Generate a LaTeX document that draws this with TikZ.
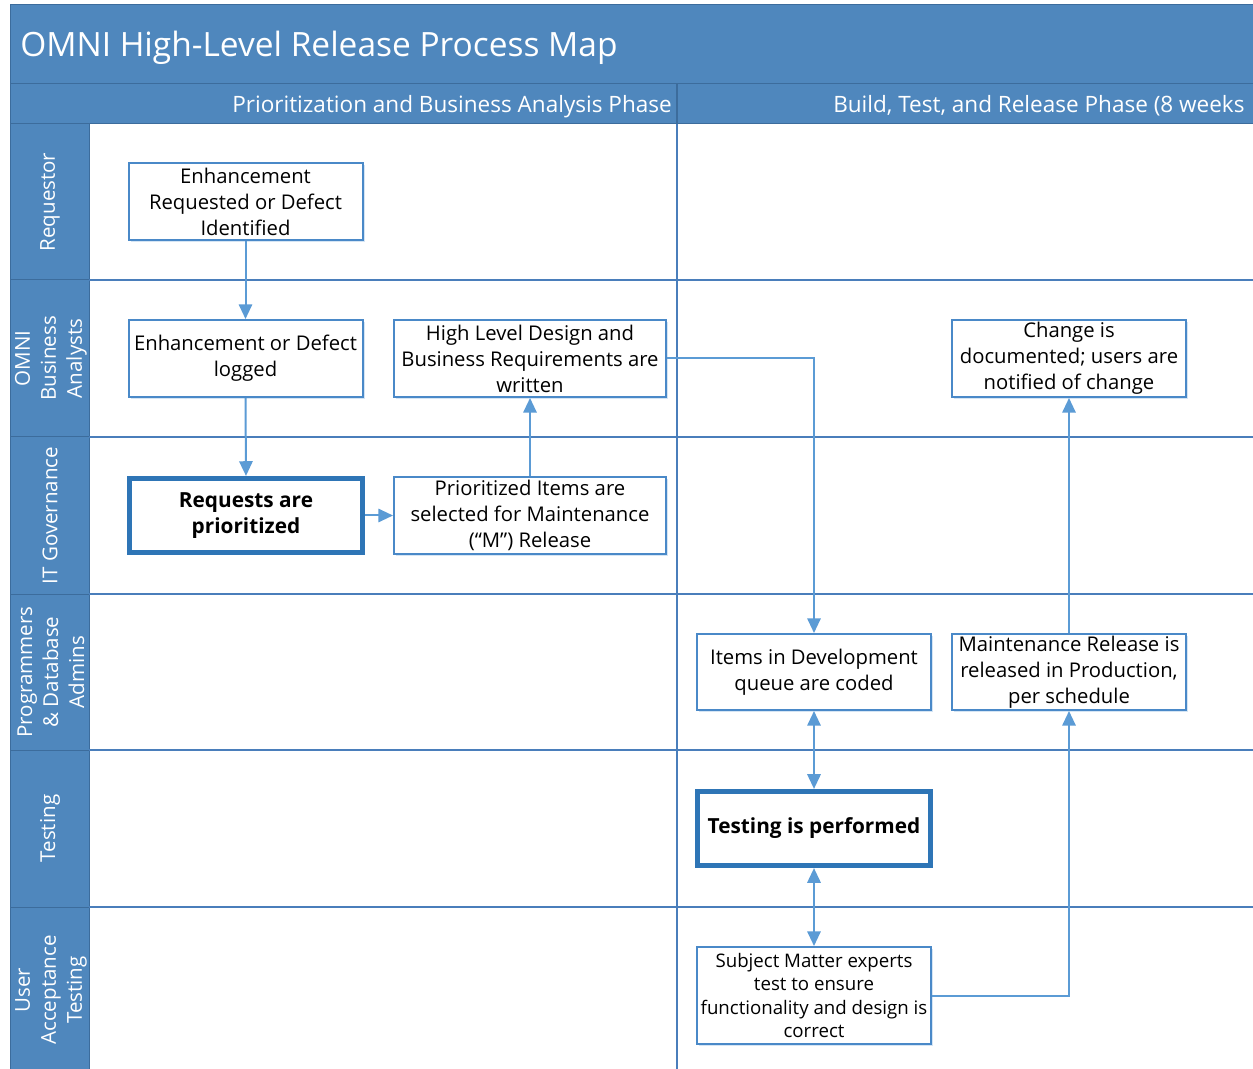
\documentclass[tikz,border=0pt]{standalone}
\usepackage{fontspec}
\setmainfont{Open Sans}
\usetikzlibrary{arrows.meta,shadows}
\definecolor{hdr}{HTML}{4F87BD}
\definecolor{hdrline}{HTML}{3C6C9C}
\definecolor{laneline}{HTML}{4A7EBB}
\definecolor{boxb}{HTML}{4A89C8}
\definecolor{thickb}{HTML}{2E75B6}
\definecolor{arr}{HTML}{5B9BD5}
\begin{document}
\begin{tikzpicture}[x=0.75pt,y=-0.75pt,
  box/.style={draw=boxb, line width=1.5pt, fill=white, align=center, inner sep=0pt,
    font=\fontsize{15.2}{19.5}\selectfont,
    drop shadow={shadow xshift=1.5pt,shadow yshift=-1.5pt,fill=arr,opacity=0.25}},
  thickbox/.style={box, draw=thickb, line width=3.9pt, font=\fontsize{15.6}{20}\selectfont\bfseries},
  link/.style={draw=arr, line width=1.5pt, -{Triangle[length=11pt,width=10pt]}},
  dlink/.style={draw=arr, line width=1.5pt, {Triangle[length=11pt,width=10pt]}-{Triangle[length=11pt,width=10pt]}},
  lanelbl/.style={text=white, rotate=90, align=center, inner sep=0pt, font=\fontsize{15.4}{19.5}\selectfont},
  hdrtext/.style={text=white, inner sep=0pt}
]
\useasboundingbox (0,0) rectangle (1253,1069);
\fill[white] (0,0) rectangle (1253,1069);
% header bands
\path[fill=hdr, draw=hdrline, line width=0.75pt] (10,5) rectangle (1260,84);
\path[fill=hdr, draw=hdrline, line width=0.75pt] (10,84) rectangle (1260,124);
\path[fill=hdr, draw=hdrline, line width=0.75pt] (10,124) rectangle (89,1080);
% lane separators
\foreach \yy in {280,437,594,750,907}{
  \draw[hdrline, line width=0.75pt] (10,\yy) -- (89,\yy);
  \draw[laneline, line width=1pt] (89,\yy) -- (1260,\yy);
}
% phase divider
\draw[hdrline, line width=1pt] (677,84) -- (677,124);
\draw[laneline, line width=1pt] (677,124) -- (677,1080);
% titles
\node[hdrtext, anchor=base west, font=\fontsize{25.1}{29}\selectfont] (title) at (20,57) {OMNI High-Level Release Process Map};
\node[hdrtext, anchor=base east, font=\fontsize{16.9}{20}\selectfont] (ph1) at (672,112.5) {Prioritization and Business Analysis Phase};
\node[hdrtext, anchor=base west, font=\fontsize{16.9}{20}\selectfont] (ph2) at (833,112.5) {Build, Test, and Release Phase (8 weeks};
% lane labels
\node[lanelbl] (l1) at (50,202) {Requestor};
\node[lanelbl] (l2) at (51,358.5) {OMNI\\Business\\Analysts};
\node[lanelbl] (l3) at (50,515.5) {IT Governance};
\node[lanelbl] (l4) at (51,672) {Programmers\\\& Database\\Admins};
\node[lanelbl] (l5) at (50,828.5) {Testing};
\node[lanelbl] (l6) at (51,990) {User\\Acceptance\\Testing};
% boxes
\node[box, minimum width=175.5pt, minimum height=57.75pt] (n1) at (245.5,202) {Enhancement\\Requested or Defect\\Identified};
\node[box, minimum width=175.5pt, minimum height=57.75pt] (n2) at (245.5,358.5) {Enhancement or Defect\\logged};
\node[thickbox, minimum width=174.75pt, minimum height=55.5pt] (n3) at (246,515.5) {Requests are\\prioritized};
\node[box, minimum width=204pt, minimum height=57.75pt] (n4) at (530,515.5) {Prioritized Items are\\selected for Maintenance\\(“M”) Release};
\node[box, minimum width=204pt, minimum height=57.75pt] (n5) at (530,358.5) {High Level Design and\\Business Requirements are\\written};
\node[box, minimum width=175.5pt, minimum height=57pt] (n6) at (814,672) {Items in Development\\queue are coded};
\node[thickbox, minimum width=174.75pt, minimum height=55.5pt] (n7) at (814,828.5) {Testing is performed};
\node[box, minimum width=175.5pt, minimum height=72.75pt, font=\fontsize{14}{17.5}\selectfont] (n8) at (814,995.5) {Subject Matter experts\\test to ensure\\functionality and design is\\correct};
\node[box, minimum width=175.5pt, minimum height=57pt] (n9) at (1069,672) {Maintenance Release is\\released in Production,\\per schedule};
\node[box, minimum width=175.5pt, minimum height=57.75pt] (n10) at (1069,358.5) {Change is\\documented; users are\\notified of change};
% connectors
\draw[link] (n1.south) -- (n2.north);
\draw[link] (n2.south) -- (n3.north);
\draw[link] (n3.east) -- (n4.west);
\draw[link] (n4.north) -- (n5.south);
\draw[link] (n5.east) -| (n6.north);
\draw[dlink] (n6.south) -- (n7.north);
\draw[dlink] (n7.south) -- (n8.north);
\draw[link] (n8.east) -| (n9.south);
\draw[link] (n9.north) -- (n10.south);
\end{tikzpicture}
\end{document}
